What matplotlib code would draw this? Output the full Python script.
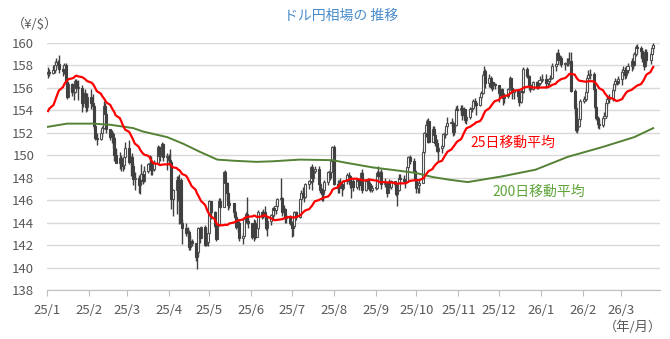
import numpy as np
import pandas as pd
import matplotlib
matplotlib.use("Agg")
import matplotlib.pyplot as plt
import matplotlib.dates as mdates

plt.rcParams['font.family'] = ['Noto Sans CJK JP', 'DejaVu Sans']

# closes of the 24 trading days before the chart (only used to start the 25-day average)
pre_close = [151.6, 149.8, 149.6, 149.6, 150.6, 150.1, 150.0, 151.2, 151.9, 152.5, 152.7, 153.6,
             154.1, 153.5, 154.7, 157.4, 156.4, 157.1, 157.2, 157.1, 157.8, 157.9, 156.9, 157.2]

# daily close / high / low, one row per month (25/1 .. 26/3)
close = [
    157.4, 157.3, 157.6, 158.0, 158.3, 158.1, 157.7, 157.5, 158.0, 156.5, 155.2, 156.3, 155.6, 155.6, 156.6, 156.0, 156.0, 154.6, 155.5, 155.2, 154.3, 155.2,
    154.6, 154.4, 152.6, 151.5, 151.4, 152.0, 152.4, 154.4, 153.7, 152.3, 151.6, 151.9, 151.5, 150.0, 149.3, 149.7, 149.0, 149.1, 149.8, 150.6,
    149.4, 149.8, 149.0, 147.9, 148.0, 147.3, 147.8, 148.3, 147.7, 148.6, 149.2, 149.3, 148.7, 148.8, 149.3, 150.7, 149.9, 150.5, 151.0, 149.8, 149.9,
    149.6, 149.4, 146.1, 146.9, 147.8, 146.3, 147.8, 144.0, 143.5, 143.1, 143.2, 141.8, 142.4, 142.2, 140.9, 141.4, 143.5, 142.6, 143.6, 142.0, 142.3, 143.1,
    145.9, 144.9, 143.7, 142.5, 143.8, 145.9, 145.4, 148.5, 147.5, 146.6, 145.6, 145.7, 144.9, 144.5, 143.6, 144.0, 142.6, 142.8, 144.3, 144.8, 144.1, 144.0,
    142.7, 144.0, 142.7, 143.5, 144.9, 144.6, 144.9, 144.6, 143.5, 144.1, 144.7, 145.3, 145.1, 145.5, 146.1, 146.2, 144.9, 145.2, 144.4, 144.6, 144.0,
    143.5, 143.7, 144.9, 144.5, 146.1, 146.6, 146.3, 146.3, 147.4, 147.7, 148.9, 148.0, 148.6, 148.8, 147.4, 146.9, 146.5, 146.9, 147.6, 148.5, 148.5, 149.5, 150.7,
    147.4, 147.1, 147.6, 147.4, 147.1, 147.7, 148.2, 148.1, 147.4, 147.7, 147.2, 147.9, 147.7, 147.3, 148.4, 146.9, 147.7, 147.4, 147.4, 146.9, 147.1,
    147.1, 148.4, 148.1, 148.5, 147.4, 147.5, 146.6, 147.4, 147.2, 147.7, 147.4, 146.5, 146.9, 148.0, 147.9, 147.7, 147.7, 148.9, 149.8, 149.5, 148.6, 147.9,
    147.1, 147.3, 147.5, 150.3, 152.0, 152.7, 153.0, 151.2, 152.3, 151.8, 151.1, 150.4, 150.6, 150.8, 151.9, 151.9, 152.6, 152.9, 152.9, 152.1, 152.7, 154.1, 154.0,
    154.2, 153.6, 154.1, 153.1, 153.4, 154.1, 154.2, 154.8, 154.6, 154.5, 155.2, 155.5, 157.1, 157.5, 156.4, 156.9, 156.1, 156.5, 156.3, 156.2,
    155.5, 155.9, 155.3, 155.1, 155.3, 155.9, 156.9, 156.0, 155.6, 155.8, 155.3, 154.7, 155.7, 155.6, 157.7, 157.0, 156.2, 155.9, 156.5, 156.1, 156.4, 156.7,
    156.8, 156.4, 156.6, 156.8, 156.9, 157.9, 158.1, 159.1, 158.5, 158.6, 158.1, 158.1, 158.2, 158.3, 158.4, 155.7, 154.2, 152.2, 152.6, 153.2, 154.8,
    155.0, 155.6, 156.9, 157.1, 157.2, 155.9, 154.3, 153.3, 152.8, 152.7, 153.3, 153.5, 154.6, 155.0, 155.1, 155.8, 156.3, 156.6, 156.4, 156.8,
    157.4, 157.6, 157.1, 157.6, 157.9, 158.4, 158.0, 159.0, 159.6, 159.5, 159.3, 158.6, 157.9, 159.2, 158.5, 159.0, 159.5, 159.8,
]
high = [
    157.8, 157.7, 158.0, 158.4, 158.6, 158.5, 158.9, 158.0, 158.2, 158.2, 156.8, 156.5, 156.4, 156.3, 156.8, 156.8, 156.7, 156.2, 155.6, 155.9, 155.3, 155.5,
    155.9, 155.4, 154.5, 152.7, 152.0, 152.2, 152.6, 154.8, 154.6, 153.8, 152.3, 152.2, 152.1, 151.6, 150.6, 150.3, 150.0, 149.4, 150.1, 151.2,
    151.3, 149.9, 150.2, 149.3, 148.5, 148.2, 148.1, 149.2, 148.5, 149.0, 149.3, 150.0, 149.9, 149.1, 149.6, 150.9, 150.8, 150.7, 151.2, 151.1, 150.2,
    150.1, 150.5, 149.3, 147.0, 148.1, 148.1, 148.3, 148.0, 144.3, 144.0, 143.6, 143.3, 142.9, 142.5, 142.2, 141.6, 143.6, 143.5, 143.7, 143.8, 142.6, 143.6,
    146.0, 145.9, 145.0, 144.0, 143.9, 146.2, 146.2, 148.6, 148.7, 147.6, 146.7, 146.0, 145.7, 145.1, 144.7, 144.3, 144.1, 143.1, 144.4, 144.9, 146.3, 144.4,
    144.0, 144.3, 144.2, 144.0, 145.1, 145.0, 145.2, 145.5, 144.7, 144.5, 144.8, 145.4, 145.5, 145.9, 146.2, 148.0, 146.3, 145.6, 145.3, 144.8, 144.7,
    144.1, 144.0, 145.0, 145.0, 146.2, 146.9, 147.2, 146.8, 147.5, 147.8, 149.0, 149.2, 148.8, 149.0, 149.0, 147.6, 147.1, 147.0, 147.8, 148.6, 148.8, 149.5, 150.8,
    150.9, 147.8, 147.8, 148.0, 147.5, 147.8, 148.4, 148.5, 148.1, 147.8, 147.9, 148.0, 148.0, 147.8, 148.5, 148.8, 147.8, 148.0, 148.0, 147.6, 147.3,
    147.5, 148.6, 149.0, 148.6, 148.8, 148.0, 147.7, 147.6, 147.9, 147.8, 147.7, 147.5, 147.0, 148.3, 148.3, 148.2, 147.9, 149.0, 149.9, 150.0, 149.7, 148.8,
    148.0, 147.6, 147.8, 150.5, 152.1, 152.8, 153.2, 153.3, 152.6, 152.6, 151.9, 151.4, 150.8, 151.0, 152.0, 152.2, 152.7, 153.4, 153.3, 153.0, 152.9, 154.4, 154.5,
    154.5, 154.5, 154.3, 154.1, 153.6, 154.3, 154.5, 155.0, 155.1, 154.8, 155.3, 155.7, 157.3, 157.9, 157.7, 157.2, 157.0, 156.6, 156.5, 156.4,
    156.2, 156.0, 156.0, 155.5, 155.5, 156.0, 157.0, 156.9, 156.0, 155.9, 155.9, 155.3, 155.8, 156.0, 157.8, 157.8, 157.1, 156.4, 156.6, 156.6, 156.6, 157.0,
    157.2, 157.2, 156.8, 156.9, 157.1, 158.2, 158.2, 159.2, 159.4, 158.9, 158.8, 158.3, 158.6, 158.6, 159.2, 159.2, 155.9, 154.6, 153.0, 153.5, 155.0,
    155.3, 155.9, 157.1, 157.6, 157.7, 157.4, 156.0, 154.4, 153.5, 153.2, 153.5, 153.8, 154.8, 155.3, 155.4, 156.0, 156.5, 156.9, 156.8, 157.0,
    157.7, 157.9, 157.8, 157.9, 158.2, 158.6, 158.6, 159.2, 159.8, 159.9, 159.7, 159.5, 158.8, 159.4, 159.4, 159.3, 159.8, 160.0,
]
low = [
    156.9, 157.0, 157.2, 157.3, 157.7, 157.8, 157.3, 157.0, 157.2, 156.2, 155.0, 155.2, 155.3, 154.9, 155.5, 155.8, 154.9, 153.8, 154.3, 154.8, 153.8, 153.9,
    154.1, 154.0, 152.3, 151.3, 150.9, 151.3, 151.6, 152.3, 153.1, 152.0, 151.3, 151.1, 150.6, 149.5, 149.3, 148.8, 148.6, 148.6, 148.8, 149.8,
    149.2, 148.1, 148.9, 147.3, 146.9, 146.6, 146.5, 147.4, 147.4, 147.6, 148.4, 149.0, 148.2, 148.2, 148.6, 149.4, 149.7, 149.5, 150.3, 149.5, 148.7,
    149.1, 148.9, 145.2, 144.6, 144.8, 145.9, 143.9, 143.9, 142.1, 142.8, 142.6, 141.6, 141.6, 141.9, 140.6, 139.9, 141.0, 142.2, 142.7, 141.9, 141.9, 141.9,
    143.1, 144.3, 143.5, 142.4, 142.5, 143.7, 145.2, 145.5, 147.2, 146.0, 145.1, 145.3, 144.6, 144.3, 143.4, 143.2, 142.4, 142.1, 142.8, 144.0, 143.9, 143.5,
    142.5, 142.4, 142.5, 142.8, 143.3, 144.3, 144.4, 144.3, 143.3, 142.8, 143.8, 144.3, 144.6, 144.8, 145.2, 145.9, 144.6, 144.8, 144.0, 144.0, 143.8,
    142.7, 142.8, 143.5, 144.2, 144.4, 145.6, 146.2, 145.8, 146.2, 147.0, 147.5, 146.9, 147.6, 148.4, 147.3, 146.6, 145.9, 145.9, 146.7, 147.3, 147.8, 148.0, 148.6,
    147.3, 146.6, 146.6, 147.1, 146.4, 146.9, 147.4, 147.6, 147.1, 146.2, 146.8, 147.0, 147.4, 146.9, 147.3, 146.6, 146.8, 147.0, 147.1, 146.7, 146.7,
    146.9, 147.0, 147.9, 147.8, 147.0, 147.2, 146.3, 146.6, 146.9, 147.0, 147.2, 146.4, 145.5, 146.8, 147.4, 147.5, 147.1, 147.6, 148.8, 149.2, 148.5, 147.7,
    146.6, 146.6, 146.6, 148.4, 150.1, 151.6, 152.1, 151.1, 151.5, 151.4, 150.8, 150.3, 149.4, 150.2, 150.6, 151.5, 151.8, 152.4, 152.6, 151.7, 151.8, 152.6, 153.8,
    153.6, 153.1, 153.3, 152.9, 152.8, 153.2, 153.8, 154.1, 154.4, 153.6, 154.4, 154.9, 155.4, 156.9, 156.0, 156.1, 155.9, 155.7, 155.9, 155.9,
    154.7, 155.3, 155.1, 154.5, 154.6, 155.1, 155.8, 155.7, 155.0, 155.0, 154.9, 154.4, 154.6, 155.0, 155.5, 156.9, 155.8, 155.6, 155.8, 155.9, 155.9, 156.2,
    156.5, 156.0, 156.1, 156.2, 156.5, 156.8, 157.5, 158.0, 158.1, 158.0, 157.8, 157.6, 157.9, 157.9, 158.1, 155.6, 153.7, 152.1, 152.0, 152.5, 153.0,
    154.6, 154.8, 155.5, 156.6, 156.8, 155.7, 154.1, 153.1, 152.4, 152.3, 152.5, 153.0, 153.3, 154.4, 154.6, 154.8, 155.6, 156.1, 156.2, 156.3,
    156.2, 157.0, 156.8, 156.9, 157.3, 157.5, 157.7, 157.9, 158.8, 159.1, 158.7, 158.3, 157.6, 157.8, 158.2, 158.1, 158.9, 159.3,
]

# 200-day moving average
ma200_dates = ["2025-01-01", "2025-01-16", "2025-02-04", "2025-02-17", "2025-03-06", "2025-03-13",
               "2025-03-31", "2025-04-12", "2025-04-24", "2025-05-07", "2025-05-19", "2025-06-05",
               "2025-06-17", "2025-07-07", "2025-07-31", "2025-08-11", "2025-08-30", "2025-09-19",
               "2025-10-01", "2025-10-13", "2025-10-26", "2025-11-08", "2025-12-03", "2025-12-28",
               "2026-01-21", "2026-02-15", "2026-03-11", "2026-03-25"]
ma200 = [152.5, 152.8, 152.8, 152.7, 152.4, 152.1, 151.6, 151.0, 150.3, 149.6, 149.5, 149.4,
         149.45, 149.6, 149.55, 149.3, 148.9, 148.6, 148.4, 148.05, 147.8, 147.6, 148.1, 148.7,
         149.85, 150.7, 151.6, 152.4]

holidays = ["2025-12-25", "2026-01-01"]
dates = pd.bdate_range("2025-01-02", "2026-03-25")
dates = dates[~dates.isin(pd.to_datetime(holidays))]
assert len(dates) == len(close) == len(high) == len(low)

c = np.array(close)
o = np.concatenate([[pre_close[-1]], c[:-1]])
h = np.maximum(np.array(high), np.maximum(o, c))
l = np.minimum(np.array(low), np.minimum(o, c))
ma25 = pd.Series(pre_close + close).rolling(25).mean().to_numpy()[len(pre_close):]

x = mdates.date2num(dates)

fig = plt.figure(figsize=(6.7, 3.39), dpi=100)
ax = fig.add_axes([46.7 / 670, 1 - 290 / 339, (660 - 46.7) / 670, (290 - 42.7) / 339])

dark = "#404040"
up = c >= o
ax.vlines(x, l, h, color=dark, lw=1.0, zorder=2)
body = np.maximum(np.abs(c - o), 0.06)
ax.bar(x[up], body[up], bottom=np.minimum(o, c)[up], width=1.5,
       color="white", edgecolor="#505050", linewidth=0.8, zorder=3)
ax.bar(x[~up], body[~up], bottom=np.minimum(o, c)[~up], width=1.5,
       color=dark, edgecolor=dark, linewidth=0.8, zorder=3)

ax.plot(x, ma25, color="#FF0000", lw=1.6, zorder=5)
ax.plot(mdates.date2num(pd.to_datetime(ma200_dates)), ma200, color="#548235", lw=1.4, zorder=4)

ax.set_ylim(138, 160)
ax.set_yticks(np.arange(138, 161, 2))
x0 = mdates.date2num(pd.Timestamp("2025-01-01"))
ax.set_xlim(x0, x0 + 453)
months = pd.date_range("2025-01-01", "2026-03-01", freq="MS")
ax.set_xticks(mdates.date2num(months))
ax.set_xticklabels([f"{m.year % 100}/{m.month}" for m in months])

ax.grid(axis="y", color="#D9D9D9", lw=1, zorder=0)
ax.set_axisbelow(True)
for s in ["top", "right", "left"]:
    ax.spines[s].set_visible(False)
ax.spines["bottom"].set_color("#BFBFBF")
ax.tick_params(axis="y", length=0, pad=9, labelsize=9.5, labelcolor="#595959")
ax.tick_params(axis="x", length=4, color="#BFBFBF", pad=6, labelsize=9.5, labelcolor="#595959")

fig.text(341 / 670, 1 - 16 / 339, "ドル円相場の 推移", color="#4A8CCB", fontsize=10,
         ha="center", va="center")
fig.text(12 / 670, 1 - 24 / 339, "（¥/$）", color="#595959", fontsize=9.5, ha="left", va="center")
fig.text(662 / 670, 1 - 327 / 339, "（年/月）", color="#595959", fontsize=9.5, ha="right", va="center")
fig.text(470 / 670, 1 - 143 / 339, "25日移動平均", color="#FF0000", fontsize=10, ha="left", va="center")
fig.text(492 / 670, 1 - 192 / 339, "200日移動平均", color="#5FA53A", fontsize=10, ha="left", va="center")

fig.savefig("out.png", dpi=100)
